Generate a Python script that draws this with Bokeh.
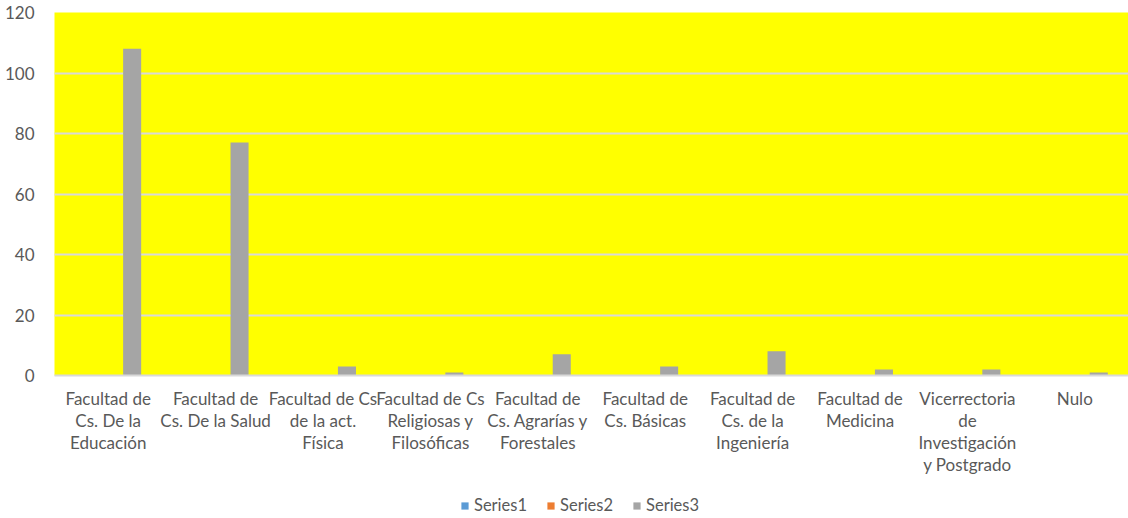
from bokeh.plotting import figure
from bokeh.layouts import column
from bokeh.models import FactorRange, Range1d, Legend, LegendItem, ColumnDataSource
from bokeh.transform import dodge
from bokeh.embed import file_html
from bokeh.resources import INLINE

categories = [
    "Facultad de\nCs. De la\nEducación",
    "Facultad de\nCs. De la Salud",
    "Facultad de Cs\nde la act.\nFísica",
    "Facultad de Cs\nReligiosas y\nFilosóficas",
    "Facultad de\nCs. Agrarías y\nForestales",
    "Facultad de\nCs. Básicas",
    "Facultad de\nCs. de la\nIngeniería",
    "Facultad de\nMedicina",
    "Vicerrectoria\nde\nInvestigación\ny Postgrado",
    "Nulo",
]
series1 = [0, 0, 0, 0, 0, 0, 0, 0, 0, 0]
series2 = [0, 0, 0, 0, 0, 0, 0, 0, 0, 0]
series3 = [108, 77, 3, 1, 7, 3, 8, 2, 2, 1]
series_names = ["Series1", "Series2", "Series3"]
series_colors = ["#5b9bd5", "#ed7d31", "#a5a5a5"]
yticks = [0, 20, 40, 60, 80, 100, 120]

FONT = "Lato"
TXT = "#595959"

source = ColumnDataSource(dict(cat=categories, s1=series1, s2=series2, s3=series3))

p = figure(
    x_range=FactorRange(*categories, range_padding=0),
    y_range=Range1d(0, 120),
    frame_width=1074, frame_height=363,
    output_backend="svg", toolbar_location=None,
    min_border_left=54, min_border_right=0, min_border_top=12, min_border_bottom=118,
)
p.background_fill_color = "#ffff00"
p.border_fill_color = "white"
p.outline_line_color = None

offsets = [-0.223, 0.0, 0.223]
for col, off, color in zip(["s1", "s2", "s3"], offsets, series_colors):
    p.vbar(x=dodge("cat", off, range=p.x_range), top=col, width=0.168,
           source=source, fill_color=color, line_color=None)

p.xgrid.grid_line_color = None
p.ygrid.grid_line_color = "#d9d9d9"
p.ygrid.grid_line_width = 2
p.yaxis.ticker = yticks
p.yaxis.axis_line_color = None
p.yaxis.major_tick_line_color = None
p.yaxis.minor_tick_line_color = None
p.yaxis.major_label_text_font = FONT
p.yaxis.major_label_text_font_size = "17px"
p.yaxis.major_label_text_color = TXT
p.yaxis.major_label_standoff = 14

p.xaxis.axis_line_color = "#d9d9d9"
p.xaxis.axis_line_width = 2
p.xaxis.major_tick_line_color = None
p.xaxis.minor_tick_line_color = None
p.xaxis.major_label_text_font = FONT
p.xaxis.major_label_text_font_size = "17px"
p.xaxis.major_label_text_line_height = 1.05
p.xaxis.major_label_text_color = TXT
p.xaxis.major_label_standoff = 6
p.xaxis.major_label_orientation = "horizontal"

# legend strip below the chart (same series, drawn outside its visible range)
lg = figure(
    x_range=p.x_range, y_range=Range1d(1000, 1001),
    width=1128, height=25,
    output_backend="svg", toolbar_location=None,
    x_axis_location=None, y_axis_location=None,
    min_border=0,
)
lg.outline_line_color = None
lg.grid.grid_line_color = None
lg.background_fill_color = "white"
lg_renderers = []
for col, off, color in zip(["s1", "s2", "s3"], offsets, series_colors):
    r = lg.vbar(x=dodge("cat", off, range=lg.x_range), top=col, width=0.168,
                source=source, fill_color=color, line_color=None)
    lg_renderers.append(r)

legend = Legend(
    items=[LegendItem(label=n, renderers=[r]) for n, r in zip(series_names, lg_renderers)],
    orientation="horizontal", location=(406, 3),
    label_text_font=FONT, label_text_font_size="16.5px", label_text_color=TXT,
    glyph_width=9, glyph_height=9, spacing=19, label_standoff=5,
    border_line_color=None, background_fill_alpha=0, margin=0, padding=2,
)
lg.add_layout(legend, "center")

layout = column(p, lg, spacing=0)
open("out.html", "w").write(file_html(layout, INLINE))
